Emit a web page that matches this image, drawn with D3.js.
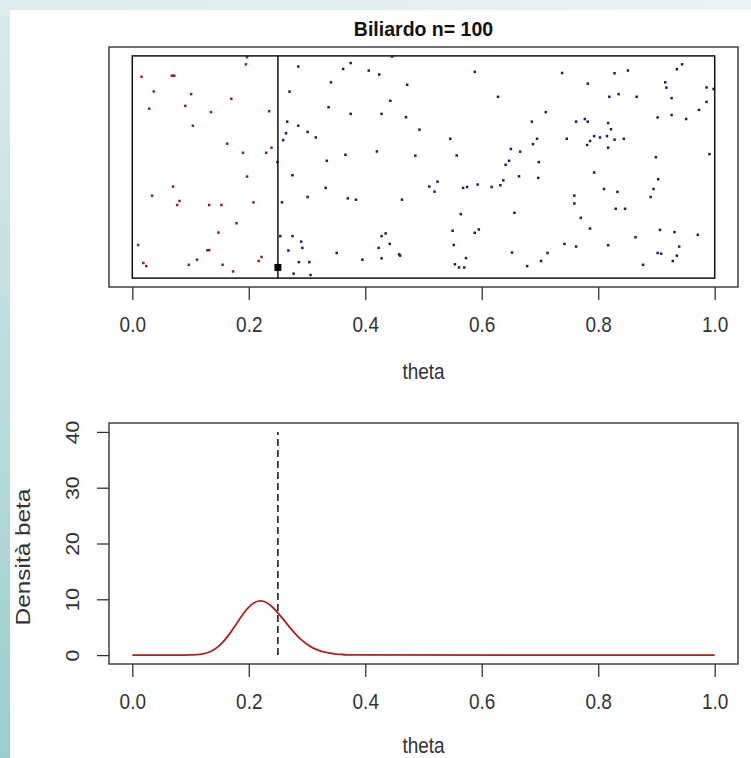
<!doctype html>
<html lang="it">
<head>
	<meta http-equiv="Content-type" content="text/html" charset="UTF-8">
	<title>Biliardo n= 100</title>

	<!-- D3 -->
	<script src="https://d3js.org/d3.v7.min.js"></script>

	<style>
		body {
			margin: 0;
			padding: 0;
			background: #fff;
			font-family: "Liberation Sans", Arial, helvetica, sans-serif;
		}
		svg { display: block; }
		.tick line { stroke: #333; stroke-width: 1.3; }
		.tick text { fill: #333; font-size: 19px; font-family: "Liberation Sans", Arial, sans-serif; }
	</style>
</head>
<body>
	<div id="canvas"></div>

	<script>
		//////////////////////////////////////
		//////////////// Data ////////////////
		//////////////////////////////////////

		const n = 100;
		const thetaTrue = 0.25;
		const squareY = 0.048;

		// balls left of the line (red)
		const redPoints = [
			[0.197, 0.994], [0.195, 0.962], [0.016, 0.906], [0.068, 0.911], [0.072, 0.911],
			[0.037, 0.840], [0.101, 0.828], [0.170, 0.807], [0.029, 0.762], [0.091, 0.775],
			[0.135, 0.747], [0.235, 0.751], [0.104, 0.686], [0.163, 0.605], [0.190, 0.564],
			[0.230, 0.564], [0.239, 0.587], [0.249, 0.522], [0.197, 0.457], [0.070, 0.412],
			[0.034, 0.371], [0.081, 0.347], [0.077, 0.329], [0.132, 0.329], [0.153, 0.329],
			[0.208, 0.341], [0.179, 0.247], [0.148, 0.205], [0.010, 0.149], [0.129, 0.125],
			[0.132, 0.126], [0.019, 0.068], [0.024, 0.054], [0.097, 0.060], [0.111, 0.083],
			[0.155, 0.060], [0.173, 0.030], [0.217, 0.077], [0.222, 0.095]
		];

		// balls right of the line (blue)
		const bluePoints = [
			[0.285, 0.952], [0.375, 0.968], [0.362, 0.941], [0.406, 0.934], [0.424, 0.916],
			[0.446, 0.997], [0.341, 0.881], [0.270, 0.839], [0.472, 0.870], [0.443, 0.798],
			[0.337, 0.769], [0.375, 0.739], [0.428, 0.739], [0.470, 0.724], [0.266, 0.704],
			[0.285, 0.686], [0.264, 0.652], [0.301, 0.658], [0.259, 0.621], [0.315, 0.633],
			[0.493, 0.668], [0.334, 0.528], [0.366, 0.555], [0.420, 0.570], [0.486, 0.551],
			[0.275, 0.463], [0.332, 0.406], [0.301, 0.365], [0.257, 0.341], [0.370, 0.359],
			[0.384, 0.353], [0.463, 0.353], [0.254, 0.189], [0.275, 0.189], [0.290, 0.164],
			[0.292, 0.136], [0.268, 0.124], [0.435, 0.201], [0.428, 0.189], [0.442, 0.154],
			[0.423, 0.136], [0.458, 0.107], [0.460, 0.101], [0.351, 0.113], [0.395, 0.083],
			[0.428, 0.089], [0.286, 0.072], [0.304, 0.072], [0.277, 0.020], [0.306, 0.014],
			[0.588, 0.928], [0.738, 0.923], [0.628, 0.816], [0.710, 0.747], [0.686, 0.704],
			[0.546, 0.627], [0.695, 0.627], [0.746, 0.627], [0.688, 0.603], [0.557, 0.552],
			[0.650, 0.581], [0.666, 0.569], [0.647, 0.528], [0.641, 0.510], [0.698, 0.522],
			[0.664, 0.458], [0.697, 0.451], [0.524, 0.434], [0.510, 0.412], [0.519, 0.389],
			[0.568, 0.406], [0.575, 0.410], [0.593, 0.421], [0.617, 0.410], [0.632, 0.418],
			[0.637, 0.440], [0.564, 0.288], [0.656, 0.294], [0.550, 0.213], [0.595, 0.219],
			[0.588, 0.204], [0.552, 0.149], [0.742, 0.154], [0.573, 0.090], [0.554, 0.062],
			[0.561, 0.048], [0.570, 0.048], [0.652, 0.115], [0.713, 0.113], [0.702, 0.077],
			[0.678, 0.054],
			[0.944, 0.962], [0.935, 0.940], [0.828, 0.922], [0.851, 0.934], [0.782, 0.875],
			[0.915, 0.881], [0.917, 0.857], [0.986, 0.858], [0.998, 0.851], [0.819, 0.816],
			[0.835, 0.828], [0.866, 0.816], [0.926, 0.810], [0.986, 0.793], [0.973, 0.757],
			[0.902, 0.723], [0.926, 0.734], [0.951, 0.716], [0.762, 0.704], [0.777, 0.716],
			[0.782, 0.704], [0.817, 0.698], [0.822, 0.670], [0.793, 0.639], [0.803, 0.633],
			[0.815, 0.639], [0.828, 0.623], [0.844, 0.627], [0.786, 0.617], [0.781, 0.599],
			[0.817, 0.587], [0.899, 0.544], [0.991, 0.558], [0.793, 0.475], [0.903, 0.445],
			[0.895, 0.401], [0.890, 0.365], [0.810, 0.401], [0.833, 0.388], [0.759, 0.371],
			[0.759, 0.336], [0.830, 0.312], [0.846, 0.312], [0.770, 0.271], [0.786, 0.223],
			[0.906, 0.217], [0.931, 0.207], [0.971, 0.195], [0.864, 0.184], [0.762, 0.142],
			[0.817, 0.148], [0.939, 0.142], [0.902, 0.113], [0.908, 0.110], [0.935, 0.101],
			[0.928, 0.077], [0.877, 0.060]
		];

		// beta density
		const densTheta = [0, 0.09, 0.10, 0.11, 0.12, 0.13, 0.14, 0.15, 0.16, 0.17, 0.18, 0.19,
			0.20, 0.21, 0.22, 0.23, 0.24, 0.25, 0.26, 0.27, 0.28, 0.29, 0.30, 0.31, 0.32,
			0.33, 0.34, 0.35, 0.36, 0.37, 0.38, 1.0];
		const densValue = [0, 0.005, 0.02, 0.07, 0.19, 0.46, 0.95, 1.73, 2.85, 4.25, 5.80, 7.32,
			8.58, 9.42, 9.70, 9.43, 8.67, 7.58, 6.30, 5.01, 3.80, 2.76, 1.93, 1.29, 0.83,
			0.51, 0.34, 0.18, 0.10, 0.05, 0.02, 0];

		const xTicks = [0, 0.2, 0.4, 0.6, 0.8, 1.0];
		const yTicks = [0, 10, 20, 30, 40];

		// text in the picture is a little stretched vertically
		const stretch = 1.12;

		//////////////////////////////////////
		/////////////// Canvas ///////////////
		//////////////////////////////////////

		const width = 751;
		const height = 758;

		const svg = d3.select('#canvas')
			.append('svg')
			.attr('width', width)
			.attr('height', height);

		// slide background bands
		const defs = svg.append('defs');
		const gradLeft = defs.append('linearGradient')
			.attr('id', 'gradLeft')
			.attr('x1', 0).attr('y1', 0).attr('x2', 0).attr('y2', 1);
		gradLeft.append('stop').attr('offset', '0%').attr('stop-color', '#dcecec');
		gradLeft.append('stop').attr('offset', '100%').attr('stop-color', '#9ccdcd');

		const gradTop = defs.append('linearGradient')
			.attr('id', 'gradTop')
			.attr('x1', 0).attr('y1', 0).attr('x2', 1).attr('y2', 0);
		gradTop.append('stop').attr('offset', '0%').attr('stop-color', '#dcecec');
		gradTop.append('stop').attr('offset', '100%').attr('stop-color', '#eaf3f3');

		svg.append('rect')
			.attr('width', width).attr('height', 10)
			.attr('fill', 'url(#gradTop)');
		svg.append('rect')
			.attr('width', 10).attr('height', height)
			.attr('fill', 'url(#gradLeft)');

		//////////////////////////////////////
		////////////// Top plot //////////////
		//////////////////////////////////////

		const box1 = { left: 109, right: 738, top: 47, bottom: 287 };

		const x1 = d3.scaleLinear().domain([-0.04, 1.04]).range([box1.left, box1.right]);
		const y1 = d3.scaleLinear().domain([-0.04, 1.04]).range([box1.bottom, box1.top]);

		const topPlot = svg.append('g');

		// title
		topPlot.append('text')
			.attr('x', (box1.left + box1.right) / 2)
			.attr('y', 36)
			.attr('text-anchor', 'middle')
			.attr('font-size', 19.5)
			.attr('font-weight', 'bold')
			.attr('fill', '#111')
			.text('Biliardo n= ' + n);

		// points
		topPlot.selectAll('.red')
			.data(redPoints)
			.enter().append('rect')
			.attr('class', 'red')
			.attr('x', (d) => x1(d[0]) - 1.25)
			.attr('y', (d) => y1(d[1]) - 1.25)
			.attr('width', 2.5)
			.attr('height', 2.5)
			.attr('fill', '#8a2020');

		topPlot.selectAll('.blue')
			.data(bluePoints)
			.enter().append('rect')
			.attr('class', 'blue')
			.attr('x', (d) => x1(d[0]) - 1.25)
			.attr('y', (d) => y1(d[1]) - 1.25)
			.attr('width', 2.5)
			.attr('height', 2.5)
			.attr('fill', '#1c1c6a');

		// table
		topPlot.append('rect')
			.attr('x', x1(0))
			.attr('y', y1(1))
			.attr('width', x1(1) - x1(0))
			.attr('height', y1(0) - y1(1))
			.attr('fill', 'none')
			.attr('stroke', '#111')
			.attr('stroke-width', 1.5);

		// cue line
		topPlot.append('line')
			.attr('x1', x1(thetaTrue)).attr('x2', x1(thetaTrue))
			.attr('y1', y1(0)).attr('y2', y1(1))
			.attr('stroke', '#111')
			.attr('stroke-width', 1.5);

		topPlot.append('rect')
			.attr('x', x1(thetaTrue) - 3.5)
			.attr('y', y1(squareY) - 3.5)
			.attr('width', 7)
			.attr('height', 7)
			.attr('fill', '#000');

		// box
		topPlot.append('rect')
			.attr('x', box1.left)
			.attr('y', box1.top)
			.attr('width', box1.right - box1.left)
			.attr('height', box1.bottom - box1.top)
			.attr('fill', 'none')
			.attr('stroke', '#333')
			.attr('stroke-width', 1.4);

		const axis1 = topPlot.append('g')
			.attr('transform', 'translate(0,' + box1.bottom + ')')
			.call(d3.axisBottom(x1).tickValues(xTicks).tickSize(13).tickFormat(d3.format('.1f')));
		axis1.select('.domain').remove();
		axis1.selectAll('text')
			.attr('y', 0).attr('dy', 0)
			.attr('transform', 'translate(0,45) scale(1,' + stretch + ')');

		topPlot.append('text')
			.attr('transform', 'translate(' + ((box1.left + box1.right) / 2) + ',' + (box1.bottom + 92) + ') scale(1,' + stretch + ')')
			.attr('text-anchor', 'middle')
			.attr('font-size', 19)
			.attr('fill', '#333')
			.text('theta');

		//////////////////////////////////////
		///////////// Bottom plot ////////////
		//////////////////////////////////////

		const box2 = { left: 109, right: 738, top: 423, bottom: 664 };

		const x2 = d3.scaleLinear().domain([-0.04, 1.04]).range([box2.left, box2.right]);
		const y2 = d3.scaleLinear().domain([-1.6, 41.6]).range([box2.bottom, box2.top]);

		const bottomPlot = svg.append('g');

		const densLine = d3.line()
			.x((d, i) => x2(densTheta[i]))
			.y((d) => y2(d))
			.curve(d3.curveMonotoneX);

		bottomPlot.append('path')
			.datum(densValue)
			.attr('d', densLine)
			.attr('fill', 'none')
			.attr('stroke', '#a82424')
			.attr('stroke-width', 1.8);

		// true theta
		bottomPlot.append('line')
			.attr('x1', x2(thetaTrue)).attr('x2', x2(thetaTrue))
			.attr('y1', y2(0)).attr('y2', y2(40))
			.attr('stroke', '#111')
			.attr('stroke-width', 1.5)
			.attr('stroke-dasharray', '7,4');

		bottomPlot.append('rect')
			.attr('x', box2.left)
			.attr('y', box2.top)
			.attr('width', box2.right - box2.left)
			.attr('height', box2.bottom - box2.top)
			.attr('fill', 'none')
			.attr('stroke', '#333')
			.attr('stroke-width', 1.4);

		const axis2x = bottomPlot.append('g')
			.attr('transform', 'translate(0,' + box2.bottom + ')')
			.call(d3.axisBottom(x2).tickValues(xTicks).tickSize(13).tickFormat(d3.format('.1f')));
		axis2x.select('.domain').remove();
		axis2x.selectAll('text')
			.attr('y', 0).attr('dy', 0)
			.attr('transform', 'translate(0,45) scale(1,' + stretch + ')');

		const axis2y = bottomPlot.append('g')
			.attr('transform', 'translate(' + box2.left + ',0)')
			.call(d3.axisLeft(y2).tickValues(yTicks).tickSize(12));
		axis2y.select('.domain').remove();
		axis2y.selectAll('text')
			.attr('x', 0)
			.attr('y', 0)
			.attr('dy', 0)
			.attr('text-anchor', 'middle')
			.attr('transform', 'translate(-30,0) rotate(-90) scale(' + stretch + ',1)');

		bottomPlot.append('text')
			.attr('transform', 'translate(' + ((box2.left + box2.right) / 2) + ',' + (box2.bottom + 89) + ') scale(1,' + stretch + ')')
			.attr('text-anchor', 'middle')
			.attr('font-size', 19)
			.attr('fill', '#333')
			.text('theta');

		bottomPlot.append('text')
			.attr('transform', 'translate(30,557) rotate(-90) scale(1.25,1)')
			.attr('text-anchor', 'middle')
			.attr('font-size', 19.5)
			.attr('fill', '#333')
			.text('Densità beta');
	</script>
</body>
</html>
